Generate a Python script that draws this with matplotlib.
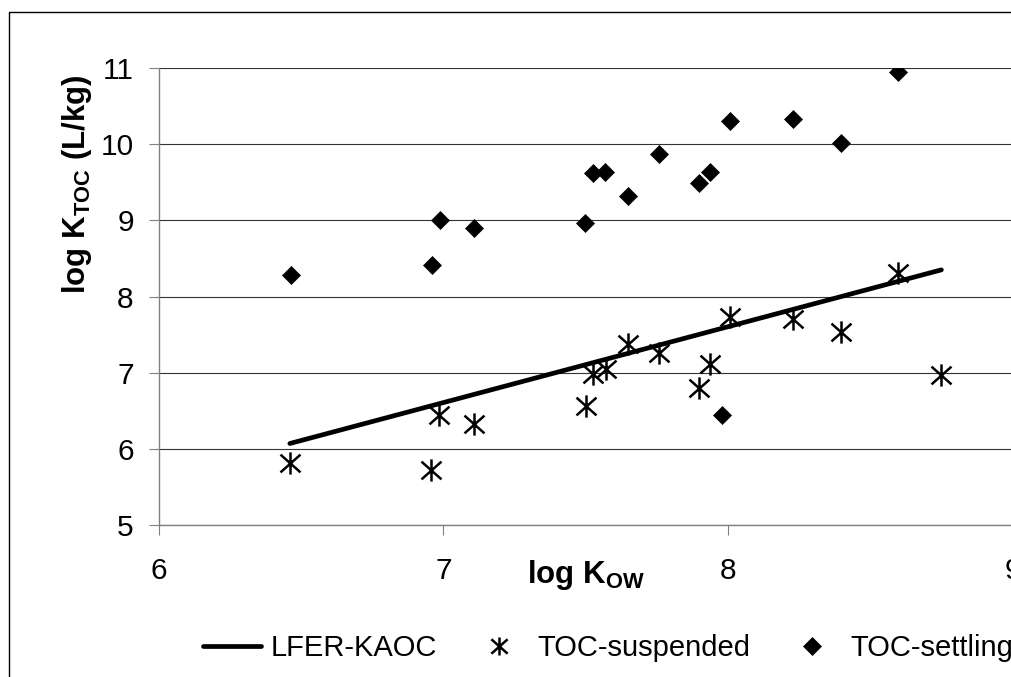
import numpy as np
import matplotlib
matplotlib.use('Agg')
import matplotlib.pyplot as plt
from matplotlib.path import Path
from matplotlib.lines import Line2D

plt.rcParams['font.family'] = ['Liberation Sans', 'DejaVu Sans']
plt.rcParams['mathtext.fontset'] = 'custom'
plt.rcParams['mathtext.rm'] = 'Liberation Sans'
plt.rcParams['mathtext.bf'] = 'Liberation Sans:bold'
plt.rcParams['mathtext.it'] = 'Liberation Sans:italic'

# ---- data ----
lfer_x = [6.46, 8.75]
lfer_y = [6.07, 8.35]

susp_x = [6.46, 6.956, 6.985, 7.107, 7.50, 7.527, 7.570, 7.647, 7.757, 7.898,
          7.938, 8.007, 8.227, 8.397, 8.598, 8.748]
susp_y = [5.82, 5.72, 6.45, 6.33, 6.56, 6.98, 7.05, 7.38, 7.26, 6.80,
          7.12, 7.73, 7.70, 7.54, 8.31, 6.97]

settle_x = [6.464, 6.959, 6.988, 7.107, 7.497, 7.527, 7.568, 7.647, 7.757, 7.898,
            7.937, 7.978, 8.008, 8.227, 8.397, 8.598]
settle_y = [8.28, 8.42, 9.00, 8.90, 8.97, 9.62, 9.63, 9.32, 9.87, 9.49,
            9.63, 6.45, 10.31, 10.33, 10.01, 10.95]

x_ticks = [6, 7, 8, 9]
y_ticks = [5, 6, 7, 8, 9, 10, 11]

# ---- figure ----
W, H = 1011, 677
fig = plt.figure(figsize=(W / 100, H / 100), dpi=100)
ax = fig.add_axes([159 / W, (H - 525) / H, (1012.5 - 159) / W, 457 / H])

ax.set_xlim(6, 9)
ax.set_ylim(5, 11)
ax.set_xticks(x_ticks)
ax.set_yticks(y_ticks)
ax.grid(axis='y', color='#333333', lw=0.8)
ax.set_axisbelow(True)
for s in ['top', 'right']:
    ax.spines[s].set_visible(False)
for s in ['left', 'bottom']:
    ax.spines[s].set_color('#808080')
    ax.spines[s].set_linewidth(1.0)
ax.tick_params(axis='both', direction='out', length=7.2, width=0.8,
               color='#808080', labelsize=21.5)
ax.tick_params(axis='x', pad=16)
ax.tick_params(axis='y', pad=11)

# asterisk marker (vertical bar + X)
star = Path([(0, -1), (0, 1), (-0.9, -0.8), (0.9, 0.8), (-0.9, 0.8), (0.9, -0.8)],
            [Path.MOVETO, Path.LINETO] * 3)

ax.plot(lfer_x, lfer_y, color='k', lw=3.4, solid_capstyle='round',
        label='LFER-KAOC', zorder=3)
ax.plot(susp_x, susp_y, ls='none', marker=star, ms=16, mew=1.8, mec='k',
        mfc='none', label='TOC-suspended', zorder=4)
ax.plot(settle_x, settle_y, ls='none', marker='D', ms=9.5, mfc='k', mec='k',
        mew=0.5, label='TOC-settling', zorder=4)

ax.set_ylabel(r'log K$_\mathbf{TOC}$ (L/kg)', fontsize=22.5, fontweight='bold')
ax.yaxis.label.set_verticalalignment('center')
ax.yaxis.set_label_coords((77 - 159) / 853.5, (525 - 184) / 457)

ax.set_xlabel(r'log K$_\mathbf{OW}$', fontsize=22.5, fontweight='bold')
ax.xaxis.label.set_verticalalignment('center')
ax.xaxis.set_label_coords((586 - 159) / 853.5, (525 - 575) / 457)

# figure border (left and top visible)
fig.add_artist(Line2D([8.5 / W, 8.5 / W, 1], [0, 1 - 11.5 / H, 1 - 11.5 / H],
                      color='k', lw=1.0, transform=fig.transFigure))

leg = fig.legend(loc='center left', bbox_to_anchor=(203 / W, 1 - 648 / H),
                 ncol=3, frameon=False, fontsize=21, handlelength=2.0,
                 handletextpad=0.33, columnspacing=1.1, borderpad=0,
                 borderaxespad=0)
leg.legend_handles[1].set_markersize(13)
leg.legend_handles[2].set_markersize(9.5)

fig.savefig('out.png', dpi=100)
